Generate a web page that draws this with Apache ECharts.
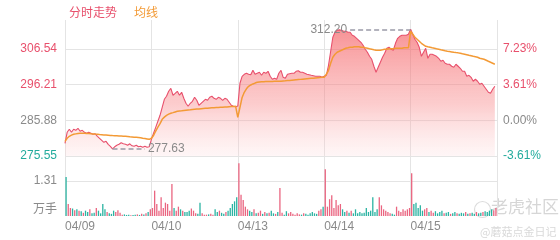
<!DOCTYPE html>
<html><head><meta charset="utf-8">
<script src="https://cdn.jsdelivr.net/npm/echarts@6/dist/echarts.min.js"></script>
<style>html,body{margin:0;padding:0;background:#fff}#c{width:560px;height:240px}</style>
</head><body><div id="c"></div>
<script>
const days = ['04/09', '04/10', '04/13', '04/14', '04/15'];
const prevClose = 285.88;
const priceMin = 275.55;
const priceStep = 10.33;
const priceMax = 314.90;
const volStep = 1.31;
const volMax = 2.25;
const volUnit = '万手';
const pointsPerDay = 40;

const price0409 = [279.22,282.41,283.28,282.41,283.28,282.99,283.57,282.70,282.99,282.41,282.12,282.41,282.12,281.83,281.97,281.25,280.67,280.09,279.51,279.80,278.93,278.36,277.63,278.21,278.65,278.93,279.37,279.08,278.93,278.65,279.08,278.50,278.36,278.65,278.21,278.36,278.07,278.36,278.07,278.21];
const price0410 = [280.38,282.12,283.85,285.59,287.33,289.64,291.96,292.83,294.27,295.14,293.12,293.69,294.27,293.12,293.98,292.25,290.80,289.93,290.80,291.38,292.54,291.67,290.22,290.80,291.38,291.96,291.67,292.54,292.83,292.25,291.96,292.54,292.25,291.67,292.25,291.96,291.09,290.22,289.93,289.79];
const price0413 = [290.00,296.59,298.61,299.19,299.48,299.19,299.05,300.35,299.19,299.48,299.77,298.90,299.77,299.48,300.06,298.61,297.75,298.03,297.75,299.48,300.35,298.32,298.03,299.19,299.34,299.48,299.48,300.06,300.21,299.77,299.77,299.48,299.19,299.05,298.90,298.76,298.61,298.61,298.61,298.32];
const price0414 = [298.61,298.90,301.80,305.85,309.90,311.35,311.93,312.05,311.93,311.64,311.64,311.35,311.35,310.48,310.19,309.61,309.03,308.45,307.59,306.43,305.56,304.40,303.53,301.51,299.77,301.22,302.67,304.11,305.27,306.72,307.01,306.43,306.14,308.16,309.61,310.19,310.48,310.48,310.48,310.77];
const price0415 = [312.20,310.77,309.32,308.45,307.01,304.40,305.56,306.72,303.82,304.98,304.98,304.69,304.40,303.82,302.95,303.24,302.38,302.09,302.09,301.51,301.22,302.09,301.51,300.93,300.06,300.06,298.61,298.90,298.32,297.17,297.75,297.17,296.30,296.59,295.72,294.85,293.98,293.69,294.85,295.72];

const avg0409 = [279.80,280.70,281.25,281.60,281.83,281.95,282.05,282.12,282.12,282.10,282.08,282.05,281.97,281.93,281.88,281.82,281.75,281.70,281.65,281.60,281.55,281.50,281.45,281.42,281.39,281.36,281.33,281.30,281.25,281.20,281.10,281.05,281.00,280.95,280.90,280.82,280.70,280.60,280.50,280.38];
const avg0410 = [280.67,281.50,282.78,283.90,284.90,286.17,286.80,287.30,287.65,287.91,288.10,288.30,288.48,288.55,288.62,288.70,288.78,288.85,288.92,289.00,289.06,289.12,289.18,289.24,289.30,289.35,289.40,289.44,289.48,289.52,289.56,289.60,289.64,289.68,289.72,289.76,289.80,289.84,289.88,289.93];
const avg0413 = [286.75,289.64,292.50,293.98,295.00,295.72,296.10,296.40,296.65,296.88,296.95,297.00,297.05,297.08,297.10,297.12,297.14,297.16,297.17,297.17,297.20,297.25,297.30,297.36,297.42,297.48,297.54,297.60,297.66,297.72,297.78,297.84,297.90,297.96,298.02,298.08,298.14,298.20,298.26,298.32];
const avg0414 = [298.32,299.19,300.35,302.38,304.11,304.98,305.56,305.85,306.14,306.43,306.72,306.86,307.01,307.01,307.15,307.15,307.15,307.01,307.01,306.86,306.72,306.57,306.43,306.28,306.14,306.14,306.14,306.28,306.43,306.43,306.57,306.57,306.57,306.72,306.72,306.72,306.72,306.86,306.86,306.86];
const avg0415 = [311.64,310.77,309.90,309.32,308.74,308.16,307.73,307.30,307.15,307.01,306.86,306.72,306.57,306.43,306.28,306.14,305.99,305.85,305.76,305.67,305.56,305.47,305.39,305.27,305.12,304.98,304.84,304.69,304.55,304.40,304.26,304.11,303.82,303.68,303.53,303.24,302.95,302.67,302.38,302.09];

const vol0409 = [1.46,0.45,0.3,0.28,0.22,0.25,0.2,0.18,0.12,0.2,0.15,0.25,0.1,0.12,0.3,0.2,0.1,0.45,0.25,0.15,0.1,0.08,0.2,0.15,0.22,0.12,0.05,0.06,0.04,0.05,0.03,0.04,0.05,0.06,0.04,0.08,0.06,0.1,0.15,0.25];
const vol0410 = [0.3,0.95,0.45,0.2,0.7,0.3,0.5,0.45,0.2,1.2,0.3,0.2,0.35,0.25,0.2,0.15,0.15,0.2,0.28,0.2,0.1,0.08,0.5,0.1,0.05,0.05,0.06,0.08,0.05,0.25,0.15,0.2,0.12,0.08,0.15,0.2,0.3,0.45,0.55,0.7];
const vol0413 = [1.98,0.8,0.6,0.35,0.25,0.2,0.15,0.25,0.1,0.12,0.2,0.08,0.15,0.1,0.12,0.2,0.1,0.08,0.15,1.05,0.12,0.05,0.18,0.1,0.15,0.08,0.05,0.1,0.06,0.05,0.1,0.08,0.05,0.1,0.15,0.1,0.08,0.2,0.25,0.35];
const vol0414 = [1.75,0.35,0.63,0.78,0.3,0.6,0.4,0.45,0.25,0.15,0.2,0.12,0.2,0.1,0.25,0.1,0.15,0.1,0.12,0.3,0.15,0.2,0.7,0.15,0.25,0.7,0.4,0.25,0.2,0.15,0.1,0.08,0.05,0.35,0.2,0.15,0.25,0.2,0.25,0.3];
const vol0415 = [1.6,0.45,0.5,0.3,0.4,0.2,0.25,0.3,0.15,0.2,0.12,0.18,0.1,0.15,0.2,0.1,0.12,0.15,0.08,0.1,0.15,0.1,0.08,0.12,0.1,0.15,0.08,0.1,0.12,0.08,0.15,0.1,0.12,0.15,0.18,0.15,0.2,0.25,0.22,0.3];

const RED = '#e8506c', TEAL = '#22ab9c', GRAY = '#8a8a8a', ORANGE = '#f39a35';
const FONT = "'Liberation Sans', Arial, 'Noto Sans CJK SC', sans-serif";

const prices = [].concat(price0409, price0410, price0413, price0414, price0415);
const avgs = [].concat(avg0409, avg0410, avg0413, avg0414, avg0415);
const vols = [].concat(vol0409, vol0410, vol0413, vol0414, vol0415);
const total = prices.length;

const priceData = prices.map((p, i) => [i, p]);
const avgData = avgs.map((p, i) => [i, p]);
const volData = vols.map((v, i) => {
  const prev = i === 0 ? prevClose : prices[i - 1];
  return { value: [i + 0.5, v], itemStyle: { color: prices[i] >= prev ? '#ea6580' : '#2bb3a2' } };
});

let maxIdx = 0, minIdx = 0;
prices.forEach((p, i) => { if (p > prices[maxIdx]) maxIdx = i; if (p < prices[minIdx]) minIdx = i; });
const maxVal = prices[maxIdx], minVal = prices[minIdx];

const colorFor = v => v > prevClose + 0.005 ? RED : (v < prevClose - 0.005 ? TEAL : GRAY);

const chart = echarts.init(document.getElementById('c'), null, { renderer: 'canvas' });
chart.setOption({
  animation: false,
  textStyle: { fontFamily: FONT },
  legend: {
    left: 59, top: 3, itemWidth: 0, itemHeight: 0, itemGap: 12, selectedMode: false,
    textStyle: { fontSize: 12, fontFamily: FONT },
    data: [
      { name: '分时走势', icon: 'rect', textStyle: { color: RED } },
      { name: '均线', icon: 'rect', textStyle: { color: ORANGE } }
    ]
  },
  grid: [
    { left: 65, right: 63, top: 20, height: 136 },
    { left: 65, right: 63, top: 156, height: 60 }
  ],
  xAxis: [
    { type: 'value', gridIndex: 0, min: 0, max: total, interval: pointsPerDay,
      axisLine: { show: false }, axisTick: { show: false }, axisLabel: { show: false },
      splitLine: { show: true, lineStyle: { color: '#e4e4e4', width: 1 } } },
    { type: 'value', gridIndex: 1, min: 0, max: total, interval: pointsPerDay,
      axisLine: { show: false }, axisTick: { show: false },
      axisLabel: { show: true, align: 'left', margin: 5, color: GRAY, fontSize: 12, fontFamily: FONT,
        showMaxLabel: false,
        formatter: v => days[Math.round(v / pointsPerDay)] || '' },
      splitLine: { show: true, lineStyle: { color: '#e4e4e4', width: 1 } } }
  ],
  yAxis: [
    { type: 'value', gridIndex: 0, min: priceMin, max: priceMax, interval: priceStep,
      axisLine: { show: false }, axisTick: { show: false },
      axisLabel: { margin: 8, fontSize: 12, fontFamily: FONT, showMaxLabel: false,
        formatter: v => v.toFixed(2), color: v => colorFor(v) },
      splitLine: { show: true, showMaxLine: false, lineStyle: { color: '#e4e4e4', width: 1 } } },
    { type: 'value', gridIndex: 0, position: 'right', min: priceMin, max: priceMax, interval: priceStep,
      axisLine: { show: false }, axisTick: { show: false },
      axisLabel: { margin: 6, fontSize: 12, fontFamily: FONT, showMaxLabel: false,
        formatter: v => ((v - prevClose) / prevClose * 100).toFixed(2) + '%', color: v => colorFor(v) },
      splitLine: { show: false } },
    { type: 'value', gridIndex: 1, min: 0, max: volMax, interval: volStep,
      axisLine: { show: false }, axisTick: { show: false },
      axisLabel: { margin: 8, fontSize: 12, fontFamily: FONT, color: GRAY, showMaxLabel: false,
        formatter: v => v === 0 ? '{u|' + volUnit + '}' : v.toFixed(2),
        rich: { u: { fontSize: 12, color: GRAY, padding: [0, 0, 12, 0] } } },
      splitLine: { show: true, showMinLine: false, showMaxLine: false, lineStyle: { color: '#e4e4e4', width: 1 } } }
  ],
  series: [
    { name: '分时走势', type: 'line', xAxisIndex: 0, yAxisIndex: 0, data: priceData,
      symbol: 'none', lineStyle: { color: RED, width: 1.1 }, itemStyle: { color: RED },
      areaStyle: { origin: 'start', color: new echarts.graphic.LinearGradient(0, 0, 0, 1, [
        { offset: 0, color: 'rgba(244,88,92,0.92)' },
        { offset: 0.6, color: 'rgba(248,140,142,0.62)' },
        { offset: 1, color: 'rgba(253,212,214,0.3)' }]) },
      markLine: { silent: true, symbol: 'none', animation: false,
        lineStyle: { color: '#9a9aa8', type: [5, 3], width: 1.5 },
        data: [
          [{ coord: [maxIdx - 28, maxVal], label: { show: true, position: 'start', formatter: maxVal.toFixed(2), color: GRAY, fontSize: 12, distance: 3 } },
           { coord: [maxIdx, maxVal] }],
          [{ coord: [minIdx, minVal] },
           { coord: [minIdx + 15, minVal], label: { show: true, position: 'end', formatter: minVal.toFixed(2), color: GRAY, fontSize: 12, distance: 3 } }]
        ] } },
    { name: '均线', type: 'line', xAxisIndex: 0, yAxisIndex: 0, data: avgData,
      symbol: 'none', lineStyle: { color: ORANGE, width: 1.5 }, itemStyle: { color: ORANGE } },
    { name: '成交量', type: 'bar', xAxisIndex: 1, yAxisIndex: 2, data: volData, barWidth: 1.3 }
  ],
  graphic: [
    { type: 'circle', left: 472, top: 199, shape: { r: 8 }, style: { fill: 'none', stroke: '#dcdcdc', lineWidth: 1.2 } },
    { type: 'text', left: 491, top: 198, style: { text: '老虎社区', fill: '#d6d6d6', font: "17px 'Noto Sans CJK SC'" } },
    { type: 'text', left: 480, top: 226, style: { text: '@蘑菇点金日记', fill: '#d9d9d9', font: "11px 'Noto Sans CJK SC'" } }
  ]
});
</script></body></html>
